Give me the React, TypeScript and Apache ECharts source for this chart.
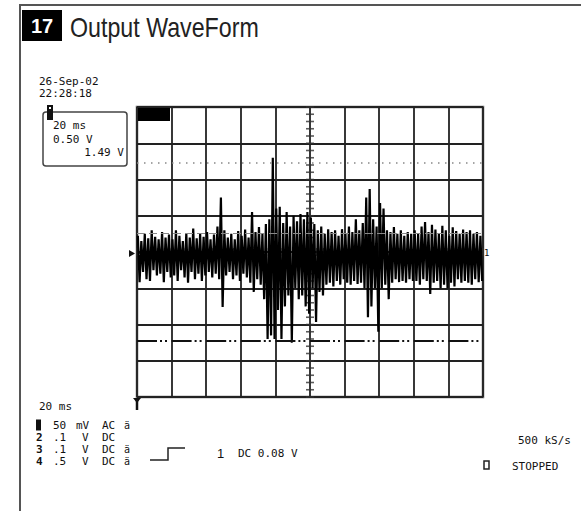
import React, { useEffect, useRef } from "react";
import * as echarts from "echarts";

// Waveform envelope, one column every 0.1 division (100 columns over 10 divisions), values in divisions
const HI = [
  0.45, 0.3, 0.5, 0.38, 0.6, 0.42, 0.35, 0.55, 0.4, 0.48,
  0.35, 0.6, 0.45, 0.3, 0.52, 0.4, 0.65, 0.38, 0.5, 0.42,
  0.55, 0.35, 0.48, 0.7, 1.5, 0.6, 0.4, 0.5, 0.35, 0.58,
  0.45, 0.62, 0.4, 1.1, 0.55, 0.69, 0.5, 0.77, 0.9, 2.6,
  1.2, 1.25, 0.8, 1.1, 0.7, 1.0, 0.85, 1.05, 0.9, 1.1,
  0.95, 0.77, 0.6, 0.7, 0.5, 0.63, 0.55, 0.6, 0.45, 0.63,
  0.5, 0.7, 0.55, 0.9, 0.6, 0.8, 1.5, 1.74, 0.9, 0.7,
  1.35, 1.2, 0.6, 0.55, 0.69, 0.5, 0.6, 0.45, 0.55, 0.5,
  0.6, 0.5, 0.7, 0.83, 0.55, 0.75, 0.62, 0.5, 0.72, 0.6,
  0.45, 0.68, 0.58, 0.5, 0.62, 0.55, 0.6, 0.5, 0.55, 0.45,
];
const LO = [
  -0.83, -0.55, -0.75, -0.8, -0.5, -0.65, -0.6, -0.83, -0.55, -0.7,
  -0.65, -0.8, -0.5, -0.7, -0.85, -0.55, -0.75, -0.6, -0.8, -0.65,
  -0.55, -0.7, -0.6, -0.75, -1.52, -0.65, -0.55, -0.75, -0.65, -0.8,
  -0.6, -0.7, -0.85, -1.1, -0.75, -0.9, -1.3, -2.4, -2.3, -2.4,
  -1.6, -2.4, -1.5, -1.2, -2.5, -1.0, -1.3, -1.2, -1.5, -1.7,
  -1.0, -1.93, -1.1, -1.2, -0.9, -0.85, -0.95, -0.8, -0.9, -0.75,
  -0.85, -0.9, -0.8, -0.88, -0.85, -1.0, -1.8, -1.5, -1.0, -2.2,
  -1.0, -0.9, -1.3, -0.85, -0.75, -0.83, -0.8, -0.85, -0.75, -0.8,
  -0.8, -0.9, -0.75, -0.8, -1.16, -0.85, -0.8, -1.0, -0.9, -1.0,
  -0.85, -0.95, -0.75, -0.85, -0.8, -0.85, -0.9, -0.75, -0.83, -0.8,
];
// cursor lines (divisions)
const CURSORS = [2.45, 0.52, -2.45];

const CHANNELS = ["1", "2", "3", "4"];
const SCALES = ["50", ".1", ".1", ".5"];
const UNITS = ["mV", "V", "V", "V"];
const COUPLING = ["AC", "DC", "DC", "DC"];
const BWLIMIT = [true, false, true, true];

const X_MIN = -5;
const X_MAX = 5;
const Y_MIN = -4;
const Y_MAX = 4;
const STEP = 0.1;

const MONO = "DejaVu Sans Mono";
const INK = "#111";

function txt(x: number, y: number, text: string, extra: any = {}) {
  return {
    type: "text",
    x,
    y,
    silent: true,
    style: {
      text,
      fill: INK,
      fontFamily: MONO,
      fontSize: 11,
      textVerticalAlign: "middle",
      verticalAlign: "middle",
      ...extra,
    },
  };
}

export default function App() {
  const ref = useRef<HTMLDivElement>(null);
  useEffect(() => {
    const chart = echarts.init(ref.current!, null, { renderer: "svg" });
    const wave: number[][] = [];
    HI.forEach((h, i) => {
      const x = X_MIN + (i + 0.5) * STEP;
      wave.push([x - STEP / 4, h], [x + STEP / 4, LO[i]]);
    });
    const vt: number[][] = [];
    for (let k = 0; k <= (Y_MAX - Y_MIN) * 5; k++) vt.push([0, Y_MIN + k * 0.2]);
    const ht: number[][] = [];
    for (let k = 0; k <= (X_MAX - X_MIN) * 5; k++) ht.push([X_MIN + k * 0.2, 0]);

    const graphics: any[] = [
      { type: "line", shape: { x1: 20, y1: 5, x2: 581, y2: 5 }, style: { stroke: "#555", lineWidth: 2 } },
      { type: "line", shape: { x1: 20, y1: 4, x2: 20, y2: 511 }, style: { stroke: "#555", lineWidth: 2 } },
      { type: "rect", shape: { x: 22, y: 10, width: 40, height: 31 }, style: { fill: "#000" } },
      {
        type: "text", x: 42, y: 26,
        style: { text: "17", fill: "#fff", fontFamily: "Liberation Sans", fontWeight: "bold", fontSize: 20, textAlign: "center", align: "center", textVerticalAlign: "middle", verticalAlign: "middle" },
      },
      {
        type: "text", x: 70, y: 27, scaleX: 0.86,
        style: { text: "Output WaveForm", fill: "#222", fontFamily: "Liberation Sans", fontSize: 27, textVerticalAlign: "middle", verticalAlign: "middle" },
      },
      txt(39, 81, "26-Sep-02"),
      txt(39, 93, "22:28:18"),
      { type: "rect", shape: { x: 43, y: 112, width: 84, height: 54, r: 3 }, style: { fill: "none", stroke: "#444", lineWidth: 1.5 } },
      { type: "rect", shape: { x: 47, y: 105, width: 6, height: 15 }, style: { fill: "#111" } },
      { type: "rect", shape: { x: 49, y: 107, width: 2, height: 2 }, style: { fill: "#fff" } },
      txt(53, 125, "20 ms"),
      txt(53, 139, "0.50 V"),
      txt(124, 152, "1.49 V", { textAlign: "right", align: "right" }),
      { type: "rect", shape: { x: 138, y: 108, width: 32, height: 13 }, style: { fill: "#000" } },
      { type: "polygon", shape: { points: [[129, 250], [135, 253.5], [129, 257]] }, style: { fill: "#111" } },
      txt(484, 253, "1", { fontSize: 9 }),
      { type: "polygon", shape: { points: [[133, 398], [141, 398], [137, 403]] }, style: { fill: "#111" } },
      { type: "line", shape: { x1: 137, y1: 398, x2: 137, y2: 410 }, style: { stroke: "#111", lineWidth: 2.5 } },
      txt(39, 406, "20 ms"),
      {
        type: "polyline",
        shape: { points: [[150, 460], [168, 460], [168, 448], [185, 448]] },
        style: { stroke: "#222", lineWidth: 1.5, fill: "none" },
      },
      txt(217, 453, "1", { fontSize: 13, fontFamily: "Liberation Sans" }),
      txt(238, 453, "DC 0.08 V"),
      txt(518, 440, "500 kS/s"),
      { type: "rect", shape: { x: 484, y: 461, width: 5, height: 8 }, style: { fill: "none", stroke: "#222", lineWidth: 1.5 } },
      txt(512, 466, "STOPPED"),
    ];
    const rowY = [425, 437, 449, 461];
    CHANNELS.forEach((c, i) => {
      const y = rowY[i];
      if (i === 0) {
        graphics.push({ type: "rect", shape: { x: 36, y: y - 5.5, width: 5, height: 11 }, style: { fill: "#111" } });
      } else {
        graphics.push(txt(36, y, c, { fontWeight: "bold" }));
      }
      graphics.push(txt(53, y, SCALES[i]));
      graphics.push(txt(UNITS[i] === "mV" ? 76 : 82, y, UNITS[i]));
      graphics.push(txt(102, y, COUPLING[i]));
      if (BWLIMIT[i]) graphics.push(txt(124, y, "ä", { fontSize: 10 }));
    });

    chart.setOption({
      animation: false,
      backgroundColor: "#fff",
      grid: { left: 137, top: 107, width: 346, height: 290, show: true, borderColor: "#666", borderWidth: 2.5, backgroundColor: "transparent" },
      xAxis: {
        type: "value", min: X_MIN, max: X_MAX, interval: 1,
        axisLine: { show: false }, axisTick: { show: false }, axisLabel: { show: false },
        splitLine: { show: true, lineStyle: { color: "#222", width: 1.8 } },
      },
      yAxis: {
        type: "value", min: Y_MIN, max: Y_MAX, interval: 1,
        axisLine: { show: false }, axisTick: { show: false }, axisLabel: { show: false },
        splitLine: { show: true, lineStyle: { color: "#222", width: 1.8 } },
      },
      series: [
        {
          type: "scatter", data: vt, symbol: "rect", symbolSize: [8, 1.6], silent: true,
          itemStyle: { color: "#333" }, z: 1,
        },
        {
          type: "scatter", data: ht, symbol: "rect", symbolSize: [1.6, 8], silent: true,
          itemStyle: { color: "#333" }, z: 1,
        },
        {
          type: "line", data: wave, showSymbol: false, symbol: "none", silent: true, z: 3,
          lineStyle: { color: "#000", width: 2.2, join: "miter" },
          markLine: {
            silent: true, symbol: ["none", "none"], label: { show: false },
            data: [
              { yAxis: CURSORS[0], lineStyle: { type: [1.5, 5.5], color: "#888", width: 1.5 } },
              { yAxis: CURSORS[1], lineStyle: { type: [8, 4], color: "#888", width: 1.2 } },
              { yAxis: CURSORS[2], lineStyle: { type: [20, 3, 2, 3, 2, 4.6], color: "#111", width: 1.8 } },
            ],
          },
        },
      ],
      graphic: graphics,
    });
    return () => chart.dispose();
  }, []);
  return (
    <div
      ref={ref}
      style={{ position: "fixed", left: 0, top: 0, width: 581, height: 511, background: "#fff" }}
    />
  );
}
